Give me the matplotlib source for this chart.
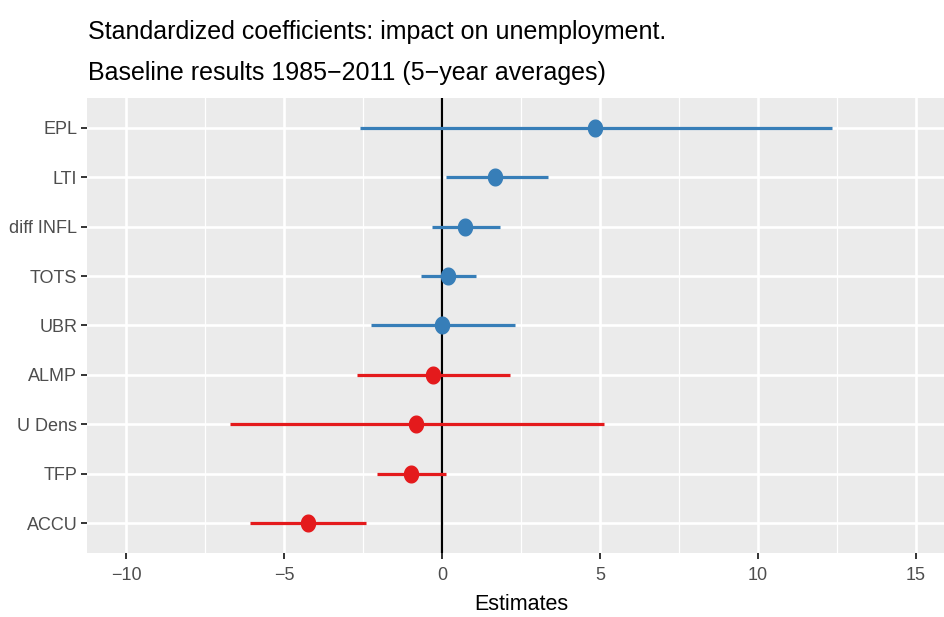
import matplotlib.pyplot as plt
import numpy as np
from matplotlib.path import Path

# variables (bottom to top) and estimates with intervals
variables = ["ACCU", "TFP", "U Dens", "ALMP", "UBR", "TOTS", "diff INFL", "LTI", "EPL"]
estimate = [-4.25, -0.99, -0.82, -0.30, 0.00, 0.19, 0.74, 1.69, 4.86]
lower = [-6.07, -2.05, -6.72, -2.71, -2.26, -0.68, -0.32, 0.11, -2.60]
upper = [-2.40, 0.11, 5.12, 2.14, 2.30, 1.09, 1.83, 3.34, 12.35]

title_lines = ["Standardized coefficients: impact on unemployment.",
               "Baseline results 1985\u22122011 (5\u2212year averages)"]

blue = "#377EB8"
red = "#E41A1C"

plt.rcParams['font.family'] = ['Liberation Sans', 'DejaVu Sans']

fig = plt.figure(figsize=(9.44, 6.17), dpi=100)
ax = fig.add_axes([87 / 944, 64 / 617, 868 / 944, 455 / 617])
ax.set_facecolor("#EBEBEB")

# slightly tall dot marker
t = np.linspace(0, 2 * np.pi, 60)
dot = Path(np.column_stack([0.84 * np.cos(t), np.sin(t)]))

y = np.arange(1, len(variables) + 1)
for i in range(len(variables)):
    c = blue if estimate[i] >= 0 else red
    ax.plot([lower[i], upper[i]], [y[i], y[i]], color=c, lw=2.3, solid_capstyle="butt", zorder=3)
    ax.plot(estimate[i], y[i], marker=dot, ms=12, color=c, mec=c, zorder=4)

ax.axvline(0, color="black", lw=1.6, zorder=2)

ax.set_xlim(-11.25, 16.25)
ax.set_ylim(0.4, 9.6)
ax.set_xticks([-10, -5, 0, 5, 10, 15])
ax.set_xticklabels(["\u221210", "\u22125", "0", "5", "10", "15"])
ax.set_xticks([-7.5, -2.5, 2.5, 7.5, 12.5], minor=True)
ax.set_yticks(y)
ax.set_yticklabels(variables)

ax.grid(which="major", color="white", lw=1.9, zorder=0)
ax.grid(which="minor", axis="x", color="white", lw=0.9, zorder=0)
ax.set_axisbelow(True)
for s in ax.spines.values():
    s.set_visible(False)
ax.tick_params(which="major", length=4, width=1.4, color="#333333", labelcolor="#4D4D4D", labelsize=13)
ax.tick_params(axis="x", pad=6)
ax.tick_params(axis="y", pad=3)
ax.tick_params(which="minor", length=0)

ax.set_xlabel("Estimates", fontsize=15.5, labelpad=7)
fig.text(88 / 944, 1 - 39 / 617, title_lines[0], fontsize=18, va="baseline", ha="left")
fig.text(88 / 944, 1 - 80 / 617, title_lines[1], fontsize=18, va="baseline", ha="left")

fig.savefig("out.png", dpi=100)
